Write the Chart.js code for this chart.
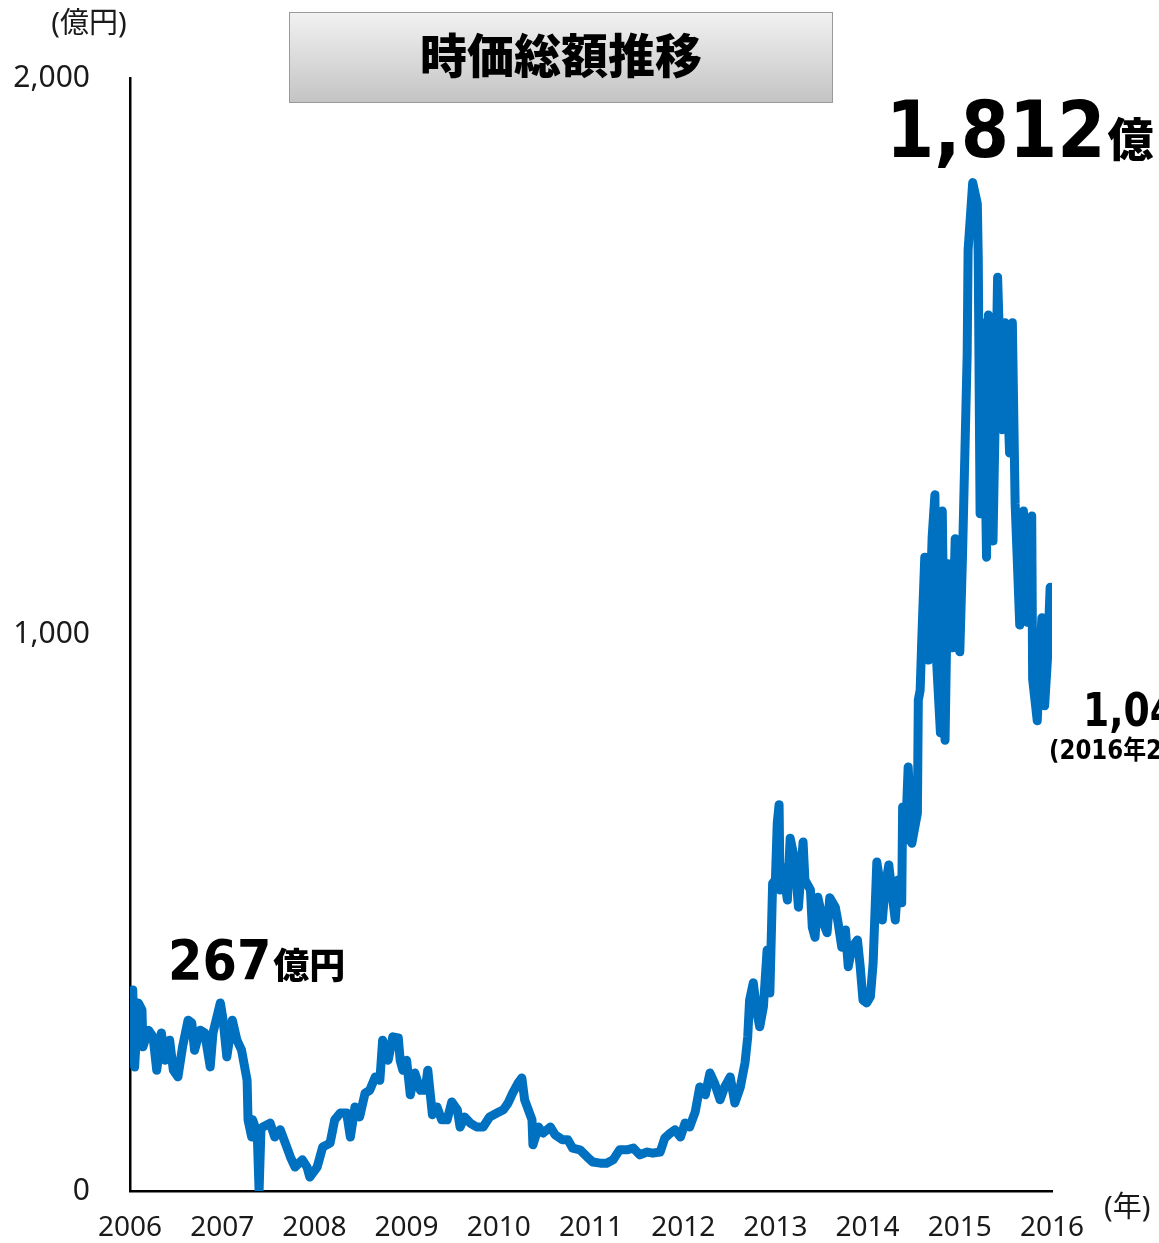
<!DOCTYPE html>
<html lang="ja">
<head>
<meta charset="utf-8">
<script src="https://cdn.jsdelivr.net/npm/chart.js@4.4.1/dist/chart.umd.min.js"></script>
<style>
  html, body { margin: 0; padding: 0; background: #fff; }
  #capChart { display: block; }
</style>
</head>
<body>
<canvas id="capChart" width="1159" height="1243"></canvas>
<script>
// 時価総額 (億円) by fractional year
const years = [
    2006.00, 2006.03, 2006.05, 2006.09, 2006.13, 2006.14, 2006.20, 2006.25, 2006.29, 2006.34,
    2006.38, 2006.43, 2006.47, 2006.52, 2006.57, 2006.63, 2006.67, 2006.70, 2006.76, 2006.81,
    2006.87, 2006.90, 2006.98, 2007.01, 2007.05, 2007.11, 2007.16, 2007.21, 2007.27, 2007.28,
    2007.32, 2007.33, 2007.38, 2007.40, 2007.42, 2007.44, 2007.52, 2007.57, 2007.63, 2007.70,
    2007.74, 2007.79, 2007.87, 2007.92, 2007.95, 2008.03, 2008.09, 2008.17, 2008.22, 2008.28,
    2008.35, 2008.39, 2008.44, 2008.49, 2008.55, 2008.60, 2008.66, 2008.71, 2008.74, 2008.80,
    2008.85, 2008.91, 2008.93, 2008.96, 2009.00, 2009.04, 2009.09, 2009.15, 2009.20, 2009.23,
    2009.28, 2009.33, 2009.38, 2009.44, 2009.49, 2009.55, 2009.58, 2009.63, 2009.69, 2009.76,
    2009.83, 2009.90, 2009.98, 2010.05, 2010.10, 2010.15, 2010.21, 2010.25, 2010.28, 2010.32,
    2010.36, 2010.37, 2010.43, 2010.48, 2010.56, 2010.61, 2010.69, 2010.75, 2010.80, 2010.88,
    2010.96, 2011.02, 2011.10, 2011.17, 2011.24, 2011.31, 2011.39, 2011.46, 2011.53, 2011.61,
    2011.67, 2011.75, 2011.80, 2011.86, 2011.91, 2011.97, 2012.02, 2012.07, 2012.13, 2012.18,
    2012.24, 2012.29, 2012.34, 2012.40, 2012.45, 2012.51, 2012.56, 2012.62, 2012.67, 2012.70,
    2012.72, 2012.76, 2012.80, 2012.83, 2012.87, 2012.91, 2012.94, 2012.97, 2013.00, 2013.02,
    2013.04, 2013.05, 2013.08, 2013.13, 2013.16, 2013.21, 2013.25, 2013.30, 2013.32, 2013.38,
    2013.40, 2013.43, 2013.46, 2013.52, 2013.56, 2013.59, 2013.65, 2013.68, 2013.72, 2013.76,
    2013.79, 2013.83, 2013.89, 2013.92, 2013.95, 2013.99, 2014.03, 2014.06, 2014.10, 2014.13,
    2014.16, 2014.19, 2014.23, 2014.26, 2014.30, 2014.33, 2014.37, 2014.38, 2014.41, 2014.44,
    2014.48, 2014.54, 2014.55, 2014.57, 2014.59, 2014.62, 2014.66, 2014.70, 2014.73, 2014.75,
    2014.79, 2014.81, 2014.84, 2014.87, 2014.92, 2014.95, 2015.00, 2015.03, 2015.08, 2015.09,
    2015.14, 2015.19, 2015.20, 2015.22, 2015.25, 2015.29, 2015.31, 2015.36, 2015.38, 2015.41,
    2015.46, 2015.49, 2015.54, 2015.57, 2015.60, 2015.65, 2015.69, 2015.73, 2015.78, 2015.79,
    2015.84, 2015.89, 2015.92, 2015.95, 2015.98, 2015.99
];
const marketCap = [
    267, 361, 223, 338, 325, 259, 289, 277, 217, 284,
    235, 271, 217, 205, 259, 307, 302, 253, 289, 284,
    223, 284, 338, 307, 241, 307, 271, 253, 199, 128,
    97, 128, 104, 0, 110, 115, 122, 97, 110, 79,
    61, 43, 56, 43, 25, 43, 79, 86, 128, 140,
    140, 97, 151, 133, 176, 181, 205, 199, 271, 235,
    277, 275, 235, 217, 235, 173, 212, 181, 181, 217,
    137, 151, 128, 128, 160, 146, 115, 133, 122, 115,
    115, 133, 140, 146, 158, 176, 194, 203, 164, 146,
    128, 83, 115, 104, 115, 101, 92, 92, 77, 74,
    61, 52, 50, 50, 56, 74, 74, 77, 65, 70,
    68, 70, 95, 104, 110, 97, 122, 115, 142, 187,
    173, 212, 194, 164, 187, 205, 158, 187, 230, 277,
    343, 374, 320, 295, 331, 433, 356, 553, 559, 661,
    694, 541, 582, 523, 634, 595, 510, 627, 559, 541,
    474, 456, 528, 482, 464, 527, 510, 482, 438, 469,
    403, 438, 451, 403, 343, 338, 349, 410, 591, 559,
    487, 546, 586, 541, 487, 559, 518, 690, 631, 762,
    625, 679, 882, 900, 1003, 1139, 954, 1175, 1251, 947,
    823, 1222, 810, 1127, 976, 1172, 969, 1146, 1504, 1691,
    1812, 1774, 1677, 1217, 1560, 1139, 1574, 1168, 1353, 1642,
    1368, 1560, 1326, 1560, 1236, 1017, 1222, 1022, 1213, 920,
    845, 1030, 872, 954, 1085, 1043
];
const yTicks = [0, 1000, 2000];
const xTickYears = [2006, 2007, 2008, 2009, 2010, 2011, 2012, 2013, 2014, 2015, 2016];

const LINE_BLUE = '#0070c0';
const BASE_FONT = '"Noto Sans", "Noto Sans CJK JP", sans-serif';
const BOLD_FONT = '"DejaVu Sans", "Noto Sans CJK JP", sans-serif';

// stretch or squeeze text horizontally so the big numbers keep their shape
function drawScaledText(ctx, text, x, y, font, sx) {
    ctx.save();
    ctx.translate(x, y);
    ctx.scale(sx, 1);
    ctx.font = font;
    ctx.fillText(text, 0, 0);
    const w = ctx.measureText(text).width * sx;
    ctx.restore();
    return w;
}

const overlayPlugin = {
    id: 'overlay',
    afterDraw(chart) {
        const ctx = chart.ctx;
        ctx.save();

        // title panel
        const grad = ctx.createLinearGradient(0, 12, 0, 102);
        grad.addColorStop(0, '#f2f2f2');
        grad.addColorStop(1, '#c4c4c4');
        ctx.fillStyle = grad;
        ctx.fillRect(289.5, 12.5, 543, 90);
        ctx.strokeStyle = '#9a9a9a';
        ctx.lineWidth = 1;
        ctx.strokeRect(289.5, 12.5, 543, 90);
        ctx.fillStyle = '#000';
        ctx.font = '900 47px "Noto Sans CJK JP", sans-serif';
        ctx.textAlign = 'center';
        ctx.textBaseline = 'middle';
        ctx.fillText('時価総額推移', 561, 55);

        // unit labels
        ctx.fillStyle = '#1a1a1a';
        ctx.font = '29px ' + BASE_FONT;
        ctx.textAlign = 'center';
        ctx.fillText('(億円)', 89, 25);
        ctx.textAlign = 'left';
        ctx.fillText('(年)', 1104, 1209);

        // callouts
        ctx.fillStyle = '#000';
        ctx.textBaseline = 'alphabetic';
        ctx.textAlign = 'left';
        let w = drawScaledText(ctx, '1,812', 886, 157, 'bold 78px ' + BOLD_FONT, 0.89);
        ctx.font = '900 46px "Noto Sans CJK JP", sans-serif';
        ctx.fillText('億', 886 + w + 2, 156);

        w = drawScaledText(ctx, '267', 168, 979, 'bold 55px ' + BOLD_FONT, 0.9);
        ctx.font = '900 36px "Noto Sans CJK JP", sans-serif';
        ctx.fillText('億円', 168 + w + 2, 979);

        w = drawScaledText(ctx, '1,043', 1083, 726, 'bold 46px ' + BOLD_FONT, 0.82);
        ctx.font = '900 32px "Noto Sans CJK JP", sans-serif';
        ctx.fillText('億円', 1083 + w + 2, 726);
        drawScaledText(ctx, '(2016年2月)', 1049, 759, 'bold 26px ' + BOLD_FONT, 0.88);

        ctx.restore();
    }
};

const ctx = document.getElementById('capChart').getContext('2d');
new Chart(ctx, {
    type: 'line',
    data: {
        datasets: [{
            data: years.map((yr, i) => ({ x: yr, y: marketCap[i] })),
            borderColor: LINE_BLUE,
            borderWidth: 9,
            borderJoinStyle: 'round',
            borderCapStyle: 'round',
            pointRadius: 0,
            tension: 0,
            fill: false
        }]
    },
    options: {
        responsive: false,
        animation: false,
        layout: { padding: { top: 78, right: 107, bottom: 0, left: 0 } },
        plugins: {
            legend: { display: false },
            tooltip: { enabled: false }
        },
        scales: {
            x: {
                type: 'linear',
                min: 2006,
                max: 2016,
                afterFit: (scale) => { scale.height = 52; },
                afterBuildTicks: (scale) => {
                    scale.ticks = xTickYears.map(v => ({ value: v }));
                },
                ticks: {
                    padding: 20,
                    color: '#1a1a1a',
                    font: { family: BASE_FONT, size: 28 },
                    maxRotation: 0,
                    autoSkip: false,
                    callback: (v) => String(v)
                },
                grid: { display: false, drawTicks: false },
                border: { color: '#000', width: 2.5 }
            },
            y: {
                min: 0,
                max: 2000,
                afterFit: (scale) => { scale.width = 130; },
                afterBuildTicks: (scale) => {
                    scale.ticks = yTicks.map(v => ({ value: v }));
                },
                ticks: {
                    padding: 40,
                    color: '#1a1a1a',
                    // small line height keeps the end labels from padding the plot area
                    font: { family: BASE_FONT, size: 30, lineHeight: 0.3 },
                    callback: (v) => v.toLocaleString('en-US')
                },
                grid: { display: false, drawTicks: false },
                border: { color: '#000', width: 2.5 }
            }
        }
    },
    plugins: [overlayPlugin]
});
</script>
</body>
</html>
